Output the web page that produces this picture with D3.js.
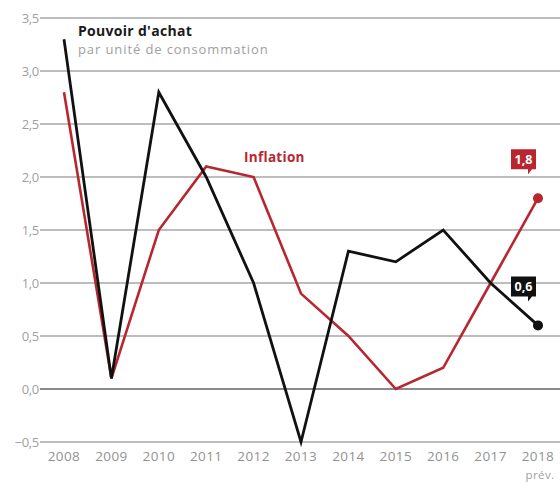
<!DOCTYPE html>
<html>
<head>
<meta charset="utf-8">
<script src="https://cdn.jsdelivr.net/npm/d3@7"></script>
<style>
  body { margin: 0; background: #fff; }
  svg { font-family: "Open Sans", Lato, sans-serif; }
</style>
</head>
<body>
<svg id="chart"></svg>
<script>
// Data
const years = [2008, 2009, 2010, 2011, 2012, 2013, 2014, 2015, 2016, 2017, 2018];
const pouvoirAchat = [3.3, 0.1, 2.8, 2.0, 1.0, -0.5, 1.3, 1.2, 1.5, 1.0, 0.6];
const inflation = [2.8, 0.1, 1.5, 2.1, 2.0, 0.9, 0.5, 0.0, 0.2, 1.0, 1.8];
const yTicks = [-0.5, 0, 0.5, 1, 1.5, 2, 2.5, 3, 3.5];

// Chart Dimensions
const width = 560;
const height = 483;

const svg = d3.select("#chart").attr("width", width).attr("height", height);

const x = d3.scaleLinear().domain([2008, 2018]).range([64, 538]);
const y = d3.scaleLinear().domain([-0.5, 3.5]).range([442, 18]);

const fmt = (d) => d3.format(".1f")(d).replace(".", ",");

// Grid
svg
  .selectAll(".grid")
  .data(yTicks)
  .enter()
  .append("line")
  .attr("x1", 40)
  .attr("x2", width)
  .attr("y1", (d) => y(d))
  .attr("y2", (d) => y(d))
  .attr("stroke", (d) => (d === 0 ? "#8a8a8a" : "#bdbdbd"))
  .attr("stroke-width", 2);

// Y labels
svg
  .selectAll(".ylab")
  .data(yTicks)
  .enter()
  .append("text")
  .attr("x", 39)
  .attr("y", (d) => y(d) + 5)
  .attr("text-anchor", "end")
  .attr("fill", "#9f9f9f")
  .style("font-size", "13px")
  .style("letter-spacing", "-0.3px")
  .text(fmt);

// X labels
svg
  .selectAll(".xlab")
  .data(years)
  .enter()
  .append("text")
  .attr("x", (d) => x(d))
  .attr("y", 461)
  .attr("text-anchor", "middle")
  .attr("fill", "#929292")
  .style("font-size", "13.5px")
  .style("letter-spacing", "0.4px")
  .text((d) => d);

svg
  .append("text")
  .attr("x", x(2018) + 2)
  .attr("y", 479)
  .attr("text-anchor", "middle")
  .attr("fill", "#a0a0a0")
  .style("font-size", "11.5px")
  .style("letter-spacing", "0.4px")
  .text("prév.");

// Lines
const line = d3
  .line()
  .x((d, i) => x(years[i]))
  .y((d) => y(d));

const red = "#b8262f";

svg
  .append("path")
  .datum(inflation)
  .attr("d", line)
  .attr("fill", "none")
  .attr("stroke", red)
  .attr("stroke-width", 2.6)
  .attr("stroke-linejoin", "miter");

svg
  .append("path")
  .datum(pouvoirAchat)
  .attr("d", line)
  .attr("fill", "none")
  .attr("stroke", "#111")
  .attr("stroke-width", 2.8)
  .attr("stroke-linejoin", "miter");

// End points and value boxes
const ends = [
  { v: inflation[inflation.length - 1], color: red },
  { v: pouvoirAchat[pouvoirAchat.length - 1], color: "#111" },
];

ends.forEach((e) => {
  const cx = x(2018);
  const cy = y(e.v);
  svg.append("circle").attr("cx", cx).attr("cy", cy).attr("r", 5).attr("fill", e.color);

  const bx = cx - 27;
  const by = cy - 49;
  const bw = 25;
  const bh = 20;
  svg
    .append("path")
    .attr("d", `M${bx},${by}h${bw}v${bh}h-4l-4,5v-5h-${bw - 8}z`)
    .attr("fill", e.color);
  svg
    .append("text")
    .attr("x", bx + bw / 2)
    .attr("y", by + 15)
    .attr("text-anchor", "middle")
    .attr("fill", "#fff")
    .style("font-size", "12.5px")
    .style("font-weight", "bold")
    .text(fmt(e.v));
});

// Series labels
svg
  .append("text")
  .attr("x", 78)
  .attr("y", 36)
  .attr("fill", "#1a1a1a")
  .style("font-size", "14px")
  .style("font-weight", "bold")
  .style("letter-spacing", "0.3px")
  .text("Pouvoir d'achat");

svg
  .append("text")
  .attr("x", 78)
  .attr("y", 54)
  .attr("fill", "#a0a0a0")
  .style("font-size", "13px")
  .style("letter-spacing", "0.9px")
  .text("par unité de consommation");

svg
  .append("text")
  .attr("x", 244)
  .attr("y", 162)
  .attr("fill", red)
  .style("font-size", "13.5px")
  .style("font-weight", "bold")
  .style("letter-spacing", "0.3px")
  .text("Inflation");
</script>
</body>
</html>
